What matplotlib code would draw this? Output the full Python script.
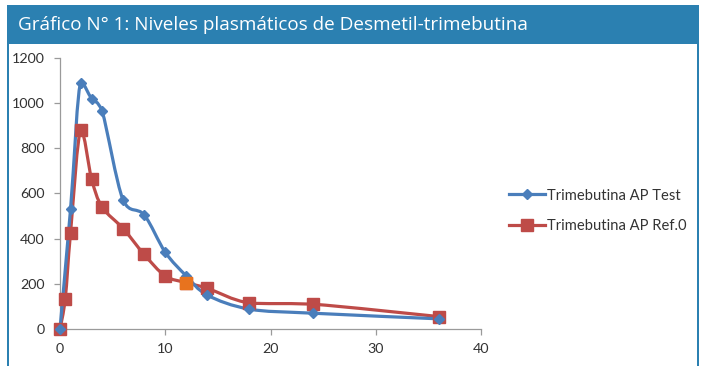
import matplotlib
matplotlib.use("Agg")
import matplotlib.pyplot as plt
import numpy as np
from matplotlib.path import Path
from matplotlib.patches import PathPatch, Rectangle

# Data
test_x = [0, 1, 2, 3, 4, 6, 8, 10, 12, 14, 18, 24, 36]
test_y = [0, 530, 1090, 1020, 965, 570, 505, 340, 235, 150, 88, 70, 45]
ref_x = [0, 0.5, 1, 2, 3, 4, 6, 8, 10, 12, 14, 18, 24, 36]
ref_y = [0, 135, 425, 880, 665, 540, 445, 330, 235, 205, 180, 115, 110, 55]
highlight_index = 9  # orange point on reference series
title = "Gráfico N° 1: Niveles plasmáticos de Desmetil-trimebutina"
labels = ["Trimebutina AP Test", "Trimebutina AP Ref.0"]
xticks = [0, 10, 20, 30, 40]
yticks = [0, 200, 400, 600, 800, 1000, 1200]

BLUE = "#4a7ebb"
RED = "#be4b48"
ORANGE = "#e8731e"
BAR = "#2b80b1"

W, H = 701, 366
fig = plt.figure(figsize=(W / 100, H / 100), dpi=100)
fig.patch.set_facecolor("white")

# Title bar and frame
fig.add_artist(Rectangle((7 / W, 1 - 44 / H), (699 - 7) / W, (44 - 5) / H,
                         transform=fig.transFigure, facecolor=BAR, edgecolor="none"))
fig.add_artist(Rectangle((7 / W, 0), 2 / W, 1 - 44 / H, transform=fig.transFigure,
                         facecolor=BAR, edgecolor="none"))
fig.add_artist(Rectangle((696.5 / W, 0), 2 / W, 1 - 44 / H, transform=fig.transFigure,
                         facecolor=BAR, edgecolor="none"))
fig.text(18 / W, 1 - 25 / H, title, color="white", fontsize=13.6,
         family="Open Sans", va="center", ha="left")

ax = fig.add_axes([60 / W, 1 - 329 / H, (481 - 60) / W, (329 - 58) / H])
ax.set_xlim(0, 40)
ax.set_ylim(0, 1200)
for s in ["top", "right"]:
    ax.spines[s].set_visible(False)
for s in ["left", "bottom"]:
    ax.spines[s].set_color("#9a9a9a")
    ax.spines[s].set_linewidth(0.9)
ax.set_xticks(xticks)
ax.set_yticks(yticks)
ax.tick_params(axis="both", colors="#9a9a9a", labelcolor="#333333", labelsize=10.3,
               length=4, width=0.9, direction="out")
ax.tick_params(axis="y", pad=7)
ax.tick_params(axis="x", pad=6)
for lbl in ax.get_xticklabels() + ax.get_yticklabels():
    lbl.set_family("Lato")


def smooth_path(xs, ys):
    pts = np.column_stack([xs, ys]).astype(float)
    n = len(pts)
    tang = np.zeros_like(pts)
    for i in range(n):
        p0 = pts[i - 1] if i > 0 else pts[i]
        p2 = pts[i + 1] if i < n - 1 else pts[i]
        t = (p2 - p0) / 6.0
        if 0 < i < n - 1:
            d1 = pts[i, 1] - pts[i - 1, 1]
            d2 = pts[i + 1, 1] - pts[i, 1]
            if d1 * d2 <= 0:
                t[1] = 0.0
        tang[i] = t
    verts = [pts[0]]
    codes = [Path.MOVETO]
    for i in range(n - 1):
        p1, p2 = pts[i], pts[i + 1]
        c1 = p1 + tang[i]
        c2 = p2 - tang[i + 1]
        lo, hi = min(p1[1], p2[1]), max(p1[1], p2[1])
        c1[1] = np.clip(c1[1], lo, hi)
        c2[1] = np.clip(c2[1], lo, hi)
        verts += [c1, c2, p2]
        codes += [Path.CURVE4] * 3
    return Path(verts, codes)


ax.add_patch(PathPatch(smooth_path(test_x, test_y), facecolor="none", edgecolor=BLUE,
                       lw=2.3, capstyle="round", joinstyle="round", zorder=3, clip_on=False))
ax.add_patch(PathPatch(smooth_path(ref_x, ref_y), facecolor="none", edgecolor=RED,
                       lw=2.3, capstyle="round", joinstyle="round", zorder=2, clip_on=False))

ax.plot(test_x, test_y, ls="none", marker="D", ms=5.5, color=BLUE, zorder=4, clip_on=False)
ax.plot(ref_x, ref_y, ls="none", marker="s", ms=9, color=RED, zorder=3, clip_on=False)
ax.plot([ref_x[highlight_index]], [ref_y[highlight_index]], ls="none", marker="s", ms=9,
        color=ORANGE, zorder=5, clip_on=False)

h1, = ax.plot([], [], color=BLUE, lw=2.3, marker="D", ms=5.5)
h2, = ax.plot([], [], color=RED, lw=2.3, marker="s", ms=9)
leg = fig.legend([h1, h2], labels, loc="center left",
                 bbox_to_anchor=(496 / W, 1 - 211 / H), frameon=False,
                 prop={"family": "Lato", "size": 10.6}, handlelength=2.4,
                 labelspacing=1.15, handletextpad=0.15)
for t in leg.get_texts():
    t.set_color("#333333")

fig.savefig("out.png", dpi=100, facecolor="white")
